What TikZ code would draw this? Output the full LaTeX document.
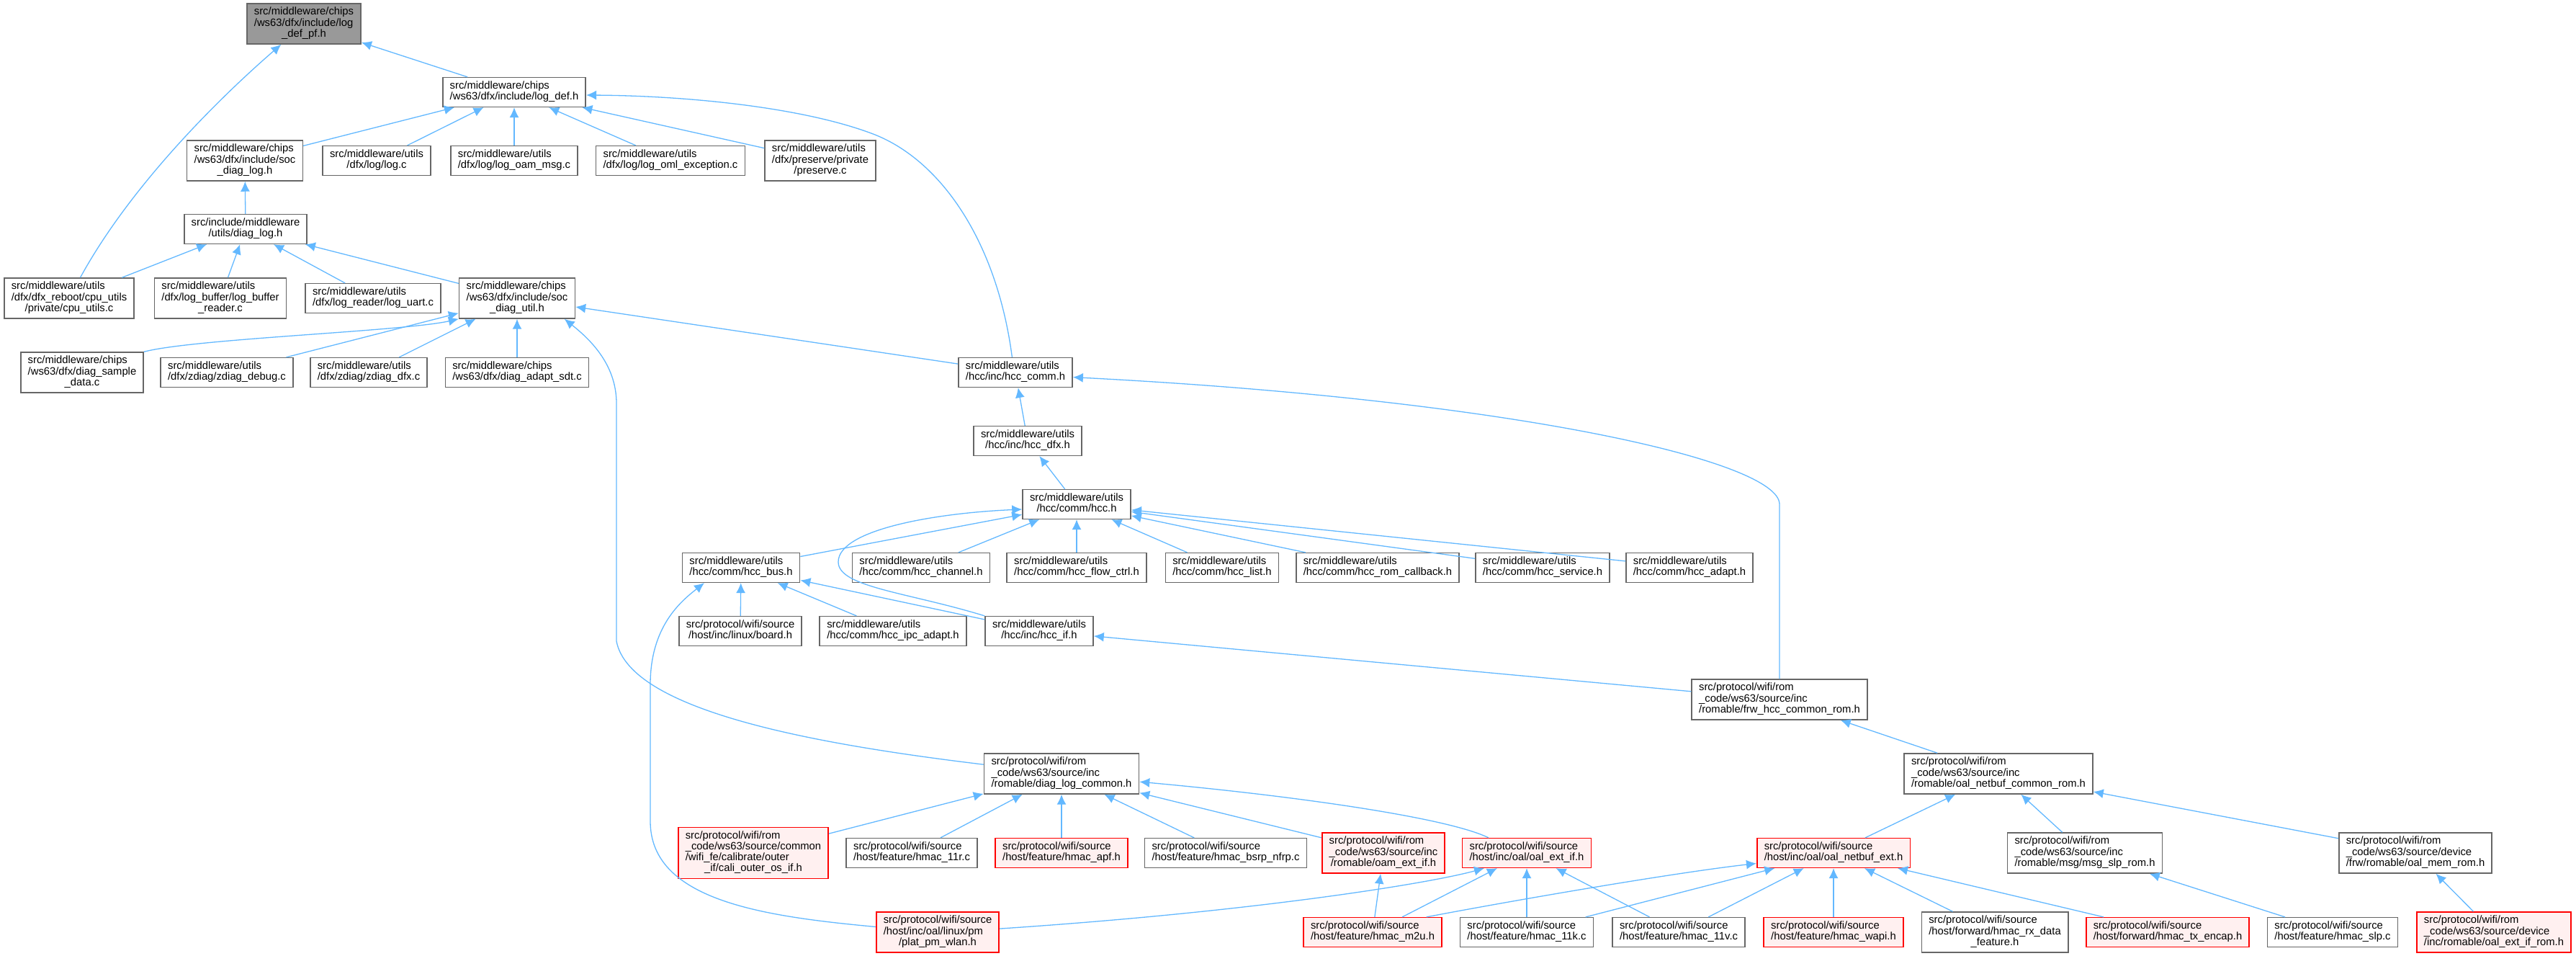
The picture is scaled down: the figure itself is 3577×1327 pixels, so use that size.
\documentclass[tikz,border=0pt]{standalone}
\usepackage{fontspec}
\setmainfont{Liberation Sans}
\usetikzlibrary{arrows.meta}

\definecolor{edgeblue}{HTML}{63B8FF}
\definecolor{boxgray}{HTML}{666666}
\definecolor{rootfill}{HTML}{999999}
\definecolor{redfill}{HTML}{FFF0F0}

\newcommand{\flbl}[2]{\begin{tabular}{@{}l@{}}#1\\\multicolumn{1}{@{}c@{}}{#2}\end{tabular}}

\begin{document}
\begin{tikzpicture}[x=1pt,y=-1pt,
		filebox/.style={draw=boxgray,fill=white,line width=1.6pt,rectangle,inner xsep=10pt,inner ysep=5.1pt,font=\fontsize{14.8}{15}\selectfont},
		rootbox/.style={filebox,fill=rootfill},
		redbox/.style={filebox,draw=red,fill=redfill},
		incl/.style={draw=edgeblue,line width=1.3pt,-{Latex[length=14pt,width=13pt]}}]
		\useasboundingbox (0,0) rectangle (3577,1327);

		\node [rootbox] (log_def_pf) at (422,33) {\flbl{src/middleware/chips\\/ws63/dfx/include/log}{\_def\_pf.h}};
		\node [filebox] (log_def) at (714,128) {\flbl{src/middleware/chips}{/ws63/dfx/include/log\_def.h}};

		\node [filebox] (soc_diag_log) at (340,223) {\flbl{src/middleware/chips\\/ws63/dfx/include/soc}{\_diag\_log.h}};
		\node [filebox] (log_c) at (523,223) {\flbl{src/middleware/utils}{/dfx/log/log.c}};
		\node [filebox] (log_oam_msg) at (714,223) {\flbl{src/middleware/utils}{/dfx/log/log\_oam\_msg.c}};
		\node [filebox] (log_oml_exception) at (931,223) {\flbl{src/middleware/utils}{/dfx/log/log\_oml\_exception.c}};
		\node [filebox] (preserve) at (1139,223) {\flbl{src/middleware/utils\\/dfx/preserve/private}{/preserve.c}};

		\node [filebox] (diag_log) at (341,318) {\flbl{src/include/middleware}{/utils/diag\_log.h}};

		\node [filebox] (cpu_utils) at (96,414) {\flbl{src/middleware/utils\\/dfx/dfx\_reboot/cpu\_utils}{/private/cpu\_utils.c}};
		\node [filebox] (log_buffer_reader) at (306,414) {\flbl{src/middleware/utils\\/dfx/log\_buffer/log\_buffer}{\_reader.c}};
		\node [filebox] (log_uart) at (518,414) {\flbl{src/middleware/utils}{/dfx/log\_reader/log\_uart.c}};
		\node [filebox] (soc_diag_util) at (718,414) {\flbl{src/middleware/chips\\/ws63/dfx/include/soc}{\_diag\_util.h}};

		\node [filebox] (diag_sample_data) at (114,517) {\flbl{src/middleware/chips\\/ws63/dfx/diag\_sample}{\_data.c}};
		\node [filebox] (zdiag_debug) at (315,517) {\flbl{src/middleware/utils}{/dfx/zdiag/zdiag\_debug.c}};
		\node [filebox] (zdiag_dfx) at (512,517) {\flbl{src/middleware/utils}{/dfx/zdiag/zdiag\_dfx.c}};
		\node [filebox] (diag_adapt_sdt) at (718,517) {\flbl{src/middleware/chips}{/ws63/dfx/diag\_adapt\_sdt.c}};
		\node [filebox] (hcc_comm) at (1410,517) {\flbl{src/middleware/utils}{/hcc/inc/hcc\_comm.h}};

		\node [filebox] (hcc_dfx) at (1427,612) {\flbl{src/middleware/utils}{/hcc/inc/hcc\_dfx.h}};
		\node [filebox] (hcc_h) at (1495,700) {\flbl{src/middleware/utils}{/hcc/comm/hcc.h}};

		\node [filebox] (hcc_bus) at (1029,788) {\flbl{src/middleware/utils}{/hcc/comm/hcc\_bus.h}};
		\node [filebox] (hcc_channel) at (1279,788) {\flbl{src/middleware/utils}{/hcc/comm/hcc\_channel.h}};
		\node [filebox] (hcc_flow_ctrl) at (1495,788) {\flbl{src/middleware/utils}{/hcc/comm/hcc\_flow\_ctrl.h}};
		\node [filebox] (hcc_list) at (1697,788) {\flbl{src/middleware/utils}{/hcc/comm/hcc\_list.h}};
		\node [filebox] (hcc_rom_callback) at (1913,788) {\flbl{src/middleware/utils}{/hcc/comm/hcc\_rom\_callback.h}};
		\node [filebox] (hcc_service) at (2142,788) {\flbl{src/middleware/utils}{/hcc/comm/hcc\_service.h}};
		\node [filebox] (hcc_adapt) at (2346,788) {\flbl{src/middleware/utils}{/hcc/comm/hcc\_adapt.h}};

		\node [filebox] (board) at (1028,876) {\flbl{src/protocol/wifi/source}{/host/inc/linux/board.h}};
		\node [filebox] (hcc_ipc_adapt) at (1240,876) {\flbl{src/middleware/utils}{/hcc/comm/hcc\_ipc\_adapt.h}};
		\node [filebox] (hcc_if) at (1443,876) {\flbl{src/middleware/utils}{/hcc/inc/hcc\_if.h}};

		\node [filebox] (frw_hcc_common_rom) at (2471,971) {\flbl{src/protocol/wifi/rom\\\_code/ws63/source/inc}{/romable/frw\_hcc\_common\_rom.h}};

		\node [filebox] (diag_log_common) at (1474,1074) {\flbl{src/protocol/wifi/rom\\\_code/ws63/source/inc}{/romable/diag\_log\_common.h}};
		\node [filebox] (oal_netbuf_common_rom) at (2775,1074) {\flbl{src/protocol/wifi/rom\\\_code/ws63/source/inc}{/romable/oal\_netbuf\_common\_rom.h}};

		\node [redbox] (cali_outer_os_if) at (1046,1184) {\flbl{src/protocol/wifi/rom\\\_code/ws63/source/common\\/wifi\_fe/calibrate/outer}{\_if/cali\_outer\_os\_if.h}};
		\node [filebox] (hmac_11r) at (1266,1184) {\flbl{src/protocol/wifi/source}{/host/feature/hmac\_11r.c}};
		\node [redbox] (hmac_apf) at (1474,1184) {\flbl{src/protocol/wifi/source}{/host/feature/hmac\_apf.h}};
		\node [filebox] (hmac_bsrp_nfrp) at (1702,1184) {\flbl{src/protocol/wifi/source}{/host/feature/hmac\_bsrp\_nfrp.c}};
		\node [redbox] (oam_ext_if) at (1921,1184) {\flbl{src/protocol/wifi/rom\\\_code/ws63/source/inc}{/romable/oam\_ext\_if.h}};
		\node [redbox] (oal_ext_if) at (2120,1184) {\flbl{src/protocol/wifi/source}{/host/inc/oal/oal\_ext\_if.h}};
		\node [redbox] (oal_netbuf_ext) at (2546,1184) {\flbl{src/protocol/wifi/source}{/host/inc/oal/oal\_netbuf\_ext.h}};
		\node [filebox] (msg_slp_rom) at (2895,1184) {\flbl{src/protocol/wifi/rom\\\_code/ws63/source/inc}{/romable/msg/msg\_slp\_rom.h}};
		\node [filebox] (oal_mem_rom) at (3354,1184) {\flbl{src/protocol/wifi/rom\\\_code/ws63/source/device}{/frw/romable/oal\_mem\_rom.h}};

		\node [redbox] (plat_pm_wlan) at (1302,1294) {\flbl{src/protocol/wifi/source\\/host/inc/oal/linux/pm}{/plat\_pm\_wlan.h}};
		\node [redbox] (hmac_m2u) at (1906,1294) {\flbl{src/protocol/wifi/source}{/host/feature/hmac\_m2u.h}};
		\node [filebox] (hmac_11k) at (2120,1294) {\flbl{src/protocol/wifi/source}{/host/feature/hmac\_11k.c}};
		\node [filebox] (hmac_11v) at (2331,1294) {\flbl{src/protocol/wifi/source}{/host/feature/hmac\_11v.c}};
		\node [redbox] (hmac_wapi) at (2546,1294) {\flbl{src/protocol/wifi/source}{/host/feature/hmac\_wapi.h}};
		\node [filebox] (hmac_rx_data_feature) at (2770,1294) {\flbl{src/protocol/wifi/source\\/host/forward/hmac\_rx\_data}{\_feature.h}};
		\node [redbox] (hmac_tx_encap) at (3010,1294) {\flbl{src/protocol/wifi/source}{/host/forward/hmac\_tx\_encap.h}};
		\node [filebox] (hmac_slp) at (3239,1294) {\flbl{src/protocol/wifi/source}{/host/feature/hmac\_slp.c}};
		\node [redbox] (oal_ext_if_rom) at (3463,1294) {\flbl{src/protocol/wifi/rom\\\_code/ws63/source/device}{/inc/romable/oal\_ext\_if\_rom.h}};

		\draw [incl] (log_def) -- (log_def_pf);
		\draw [incl] ([xshift=15.5pt]cpu_utils.north) .. controls (180,260) and (300,140) .. ([xshift=-31.6pt]log_def_pf.south);
		\draw [incl] (soc_diag_log) -- (log_def);
		\draw [incl] (log_c) -- (log_def);
		\draw [incl] (log_oam_msg) -- (log_def);
		\draw [incl] (log_oml_exception) -- (log_def);
		\draw [incl] (preserve) -- (log_def);
		\draw [incl] ([xshift=-4.6pt]hcc_comm.north) .. controls (1385,340) and (1310,225) .. (1215,187) .. controls (1120,150) and (960,133) .. ([yshift=-4pt]log_def.east);

		\draw [incl] (diag_log) -- (soc_diag_log);
		\draw [incl] (cpu_utils) -- (diag_log);
		\draw [incl] (log_buffer_reader) -- (diag_log);
		\draw [incl] (log_uart) -- (diag_log);
		\draw [incl] (soc_diag_util) -- (diag_log);

		\draw [incl] (diag_sample_data.north east) .. controls (270,470) and (560,460) .. (soc_diag_util.south west);
		\draw [incl] (zdiag_debug) -- (soc_diag_util);
		\draw [incl] (zdiag_dfx) -- (soc_diag_util);
		\draw [incl] (diag_adapt_sdt) -- (soc_diag_util);
		\draw [incl] (hcc_comm) -- (soc_diag_util);
		\draw [incl] ([yshift=12.8pt]diag_log_common.west) .. controls (1150,1035) and (875,990) .. (856,890) -- (856,560) .. controls (856,505) and (818,470) .. ([xshift=65.7pt]soc_diag_util.south);

		\draw [incl] (hcc_dfx) -- (hcc_comm);
		\draw [incl] (frw_hcc_common_rom.north) -- (2471,700) .. controls (2471,640) and (2100,555) .. ([yshift=-6.6pt]hcc_comm.east);
		\draw [incl] (hcc_h) -- (hcc_dfx);

		\draw [incl] (hcc_bus) -- (hcc_h);
		\draw [incl] (hcc_channel) -- (hcc_h);
		\draw [incl] (hcc_flow_ctrl) -- (hcc_h);
		\draw [incl] (hcc_list) -- (hcc_h);
		\draw [incl] (hcc_rom_callback) -- (hcc_h);
		\draw [incl] (hcc_service) -- (hcc_h);
		\draw [incl] (hcc_adapt) -- (hcc_h);
		\draw [incl] (hcc_if.north west) .. controls (1260,822) and (1164,815) .. (1164,780) .. controls (1164,735) and (1300,712) .. ([yshift=-7pt]hcc_h.west);

		\draw [incl] (board) -- (hcc_bus);
		\draw [incl] (hcc_ipc_adapt) -- (hcc_bus);
		\draw [incl] (hcc_if) -- (hcc_bus);
		\draw [incl] ([yshift=7.5pt]plat_pm_wlan.west) .. controls (1060,1272) and (903,1250) .. (903,1140) -- (903,950) .. controls (903,870) and (945,835) .. ([xshift=-51pt]hcc_bus.south);

		\draw [incl] (frw_hcc_common_rom) -- (hcc_if);
		\draw [incl] (oal_netbuf_common_rom) -- (frw_hcc_common_rom);

		\draw [incl] (cali_outer_os_if) -- (diag_log_common);
		\draw [incl] (hmac_11r) -- (diag_log_common);
		\draw [incl] (hmac_apf) -- (diag_log_common);
		\draw [incl] (hmac_bsrp_nfrp) -- (diag_log_common);
		\draw [incl] (oam_ext_if) -- (diag_log_common);
		\draw [incl] ([xshift=-53pt]oal_ext_if.north) .. controls (2010,1135) and (1800,1105) .. ([yshift=-11.2pt]diag_log_common.east);

		\draw [incl] (hmac_m2u) -- (oam_ext_if);
		\draw [incl] ([yshift=4.9pt]plat_pm_wlan.east) .. controls (1750,1265) and (1990,1225) .. ([xshift=-59pt]oal_ext_if.south);
		\draw [incl] (hmac_m2u) -- (oal_ext_if);
		\draw [incl] (hmac_11k) -- (oal_ext_if);
		\draw [incl] (hmac_11v) -- (oal_ext_if);

		\draw [incl] (oal_netbuf_ext) -- (oal_netbuf_common_rom);
		\draw [incl] (msg_slp_rom) -- (oal_netbuf_common_rom);
		\draw [incl] (oal_mem_rom) -- (oal_netbuf_common_rom);

		\draw [incl] ([xshift=-22pt]hmac_m2u.north east) .. controls (2090,1252) and (2320,1212) .. ([yshift=-14.5pt]oal_netbuf_ext.west);
		\draw [incl] (hmac_11k) -- (oal_netbuf_ext);
		\draw [incl] (hmac_11v) -- (oal_netbuf_ext);
		\draw [incl] (hmac_wapi) -- (oal_netbuf_ext);
		\draw [incl] (hmac_rx_data_feature) -- (oal_netbuf_ext);
		\draw [incl] (hmac_tx_encap) -- (oal_netbuf_ext);
		\draw [incl] (hmac_slp) -- (msg_slp_rom);
		\draw [incl] (oal_ext_if_rom) -- (oal_mem_rom);
	\end{tikzpicture}
\end{document}
